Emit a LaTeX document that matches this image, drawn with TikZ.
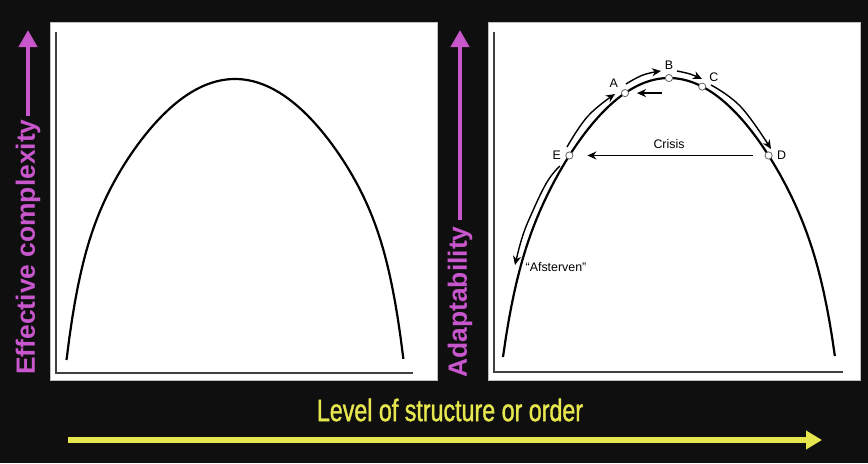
\documentclass[tikz,border=0pt]{standalone}
\usepackage{fontspec}
\setmainfont{Liberation Sans}
\newfontfamily\narrowfont[FakeStretch=0.75, FakeBold=1.2]{Liberation Sans}
\usepackage{tikz}
\usetikzlibrary{arrows, arrows.meta, positioning}
\definecolor{backdrop}{RGB}{15,15,15}
\definecolor{axispink}{RGB}{200,86,204}
\definecolor{axisyellow}{RGB}{230,230,78}
\tikzstyle{panel} = [fill=white, draw=gray!50, line width=0.4pt]
\tikzstyle{axes} = [draw=black!75, line width=0.9pt]
\tikzstyle{curve} = [black, line width=1.1pt]
\tikzstyle{state} = [circle, draw=black!60, fill=white, inner sep=0pt, minimum size=3.6pt, line width=0.4pt]
\tikzstyle{letter} = [inner sep=1pt, font=\fontsize{6.2}{7}\selectfont]
\tikzstyle{arrow} = [line width=0.7pt, -{Stealth[length=4.5pt,width=4pt]}]
\tikzstyle{flow} = [arrow, smooth, tension=0.7]
\tikzstyle{pinkarrow} = [axispink, line width=2pt, -{Triangle[length=8.5pt,width=9pt]}]
\tikzstyle{yellowarrow} = [axisyellow, line width=3pt, -{Triangle[length=8pt,width=9pt]}]
\tikzstyle{axislabel} = [axispink, inner sep=0pt, rotate=90, font=\fontsize{13.2}{15}\selectfont\bfseries]

\begin{document}
\begin{tikzpicture}[x=0.5pt, y=-0.5pt, node distance=1pt,
  declare function={arcL(\u)=79+281*(0.7*\u*\u+0.3*(\u*\u)^6);
                    arcR(\u)=78+279*(0.77*\u*\u+0.23*(\u*\u)^6);}]

\useasboundingbox (0,0) rectangle (868,463);
\fill[backdrop] (0,0) rectangle (868,463);

\draw[panel] (50,22) rectangle (437,380);
\draw[panel] (488,22) rectangle (860,380);
\draw[axes] (56,32) |- (413,373);
\draw[axes] (494,32) |- (843,372);

% left panel: complexity
\draw[curve] plot[domain=-1:1, samples=120] ({235+168.5*\x}, {arcL(\x)});

% right panel: adaptability cycle
\draw[curve] plot[domain=-1:1, samples=120] ({669+166*\x}, {arcR(\x)});

\node (ptA) [state] at ({669+166*(-0.265)}, {arcR(-0.265)}) {};
\node (ptB) [state] at (669, {arcR(0)}) {};
\node (ptC) [state] at ({669+166*0.2}, {arcR(0.2)}) {};
\node (ptD) [state] at ({669+166*0.6}, {arcR(0.6)}) {};
\node (ptE) [state] at ({669+166*(-0.6)}, {arcR(-0.6)}) {};

\node (labA) [letter, above left=0pt and 1pt of ptA] {A};
\node (labB) [letter, above=1pt of ptB] {B};
\node (labC) [letter, above right=0pt and 1pt of ptC] {C};
\node (labD) [letter, right=1pt of ptD] {D};
\node (labE) [letter, left=1pt of ptE] {E};

\draw[flow] plot coordinates {(567,147) (588,116) (615,94)};
\draw[flow] plot coordinates {(626,84) (643,75) (661,71)};
\draw[flow] plot coordinates {(677,71) (690,74) (702,79)};
\draw[flow] plot coordinates {(711,85) (741,107) (771,149)};
\draw[flow] plot coordinates {(560,166) (547,182) (531,215) (522,238) (515,265)};

\coordinate (back) at (662,{arcR(-0.265)});
\draw[arrow] (back) -- (ptA.center) [shorten >=6pt];
\draw[arrow, shorten <=6pt, shorten >=7pt] (ptD) -- node[letter, above=2pt] {Crisis} (ptE);
\node (dying) [letter] at (556,267) {``Afsterven''};

% axis captions
\node (ylabL) [axislabel] at (28,247) {Effective complexity};
\coordinate (tipL) at (28,30);
\draw[pinkarrow] (ylabL.east) -- (tipL) [shorten <=1.5pt];

\node (ylabR) [axislabel] at (460,302) {Adaptability};
\coordinate (tipR) at (460,30);
\draw[pinkarrow] (ylabR.east) -- (tipR) [shorten <=3pt];

\node (xlab) [axisyellow, font=\fontsize{15.5}{18}\narrowfont] at (450,410) {Level of structure or order};
\coordinate (xstart) at (68,440);
\coordinate (xend) at (822,440);
\draw[yellowarrow] (xstart) -- (xend);

\end{tikzpicture}
\end{document}
